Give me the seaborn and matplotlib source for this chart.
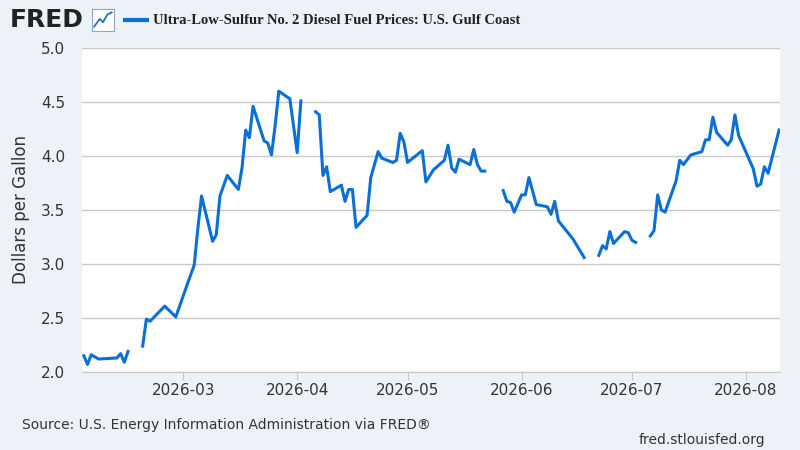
import matplotlib
matplotlib.use("Agg")
import matplotlib.pyplot as plt
import matplotlib.dates as mdates
import seaborn as sns
import pandas as pd

seg1_dates = ["2026-02-02","2026-02-03","2026-02-04","2026-02-06","2026-02-11","2026-02-12","2026-02-13","2026-02-14"]
seg1_vals = [2.15,2.07,2.16,2.12,2.13,2.17,2.09,2.19]
seg2_dates = ["2026-02-18","2026-02-19","2026-02-20","2026-02-24","2026-02-27","2026-03-02","2026-03-04","2026-03-05",
              "2026-03-06","2026-03-09","2026-03-10","2026-03-11","2026-03-13","2026-03-16","2026-03-17","2026-03-18",
              "2026-03-19","2026-03-20","2026-03-23","2026-03-24","2026-03-25","2026-03-26","2026-03-27","2026-03-30",
              "2026-04-01","2026-04-02"]
seg2_vals = [2.24,2.49,2.47,2.61,2.51,2.80,2.99,3.33,3.63,3.21,3.27,3.63,3.82,3.69,3.89,4.24,4.17,4.46,4.14,4.12,
             4.01,4.28,4.60,4.53,4.03,4.51]
seg3_dates = ["2026-04-06","2026-04-07","2026-04-08","2026-04-09","2026-04-10","2026-04-13","2026-04-14","2026-04-15",
              "2026-04-16","2026-04-17","2026-04-20","2026-04-21","2026-04-23","2026-04-24","2026-04-27","2026-04-28",
              "2026-04-29","2026-04-30","2026-05-01","2026-05-05","2026-05-06","2026-05-08","2026-05-11","2026-05-12",
              "2026-05-13","2026-05-14","2026-05-15","2026-05-18","2026-05-19","2026-05-20","2026-05-21","2026-05-22"]
seg3_vals = [4.41,4.38,3.82,3.90,3.67,3.73,3.58,3.69,3.69,3.34,3.45,3.80,4.04,3.98,3.94,3.96,4.21,4.13,3.94,4.05,
             3.76,3.87,3.96,4.10,3.89,3.85,3.97,3.92,4.06,3.92,3.86,3.86]
seg4_dates = ["2026-05-27","2026-05-28","2026-05-29","2026-05-30","2026-06-01","2026-06-02","2026-06-03","2026-06-05",
              "2026-06-08","2026-06-09","2026-06-10","2026-06-11","2026-06-15","2026-06-18"]
seg4_vals = [3.68,3.58,3.57,3.48,3.64,3.64,3.80,3.55,3.53,3.46,3.58,3.40,3.23,3.06]
seg5_dates = ["2026-06-22","2026-06-23","2026-06-24","2026-06-25","2026-06-26","2026-06-29","2026-06-30","2026-07-01","2026-07-02"]
seg5_vals = [3.08,3.17,3.14,3.30,3.19,3.30,3.29,3.22,3.20]
seg6_dates = ["2026-07-06","2026-07-07","2026-07-08","2026-07-09","2026-07-10","2026-07-13","2026-07-14","2026-07-15",
              "2026-07-17","2026-07-20","2026-07-21","2026-07-22","2026-07-23","2026-07-24","2026-07-27","2026-07-28",
              "2026-07-29","2026-07-30","2026-08-03","2026-08-04","2026-08-05","2026-08-06","2026-08-07","2026-08-10"]
seg6_vals = [3.26,3.31,3.64,3.50,3.48,3.77,3.96,3.92,4.01,4.04,4.15,4.15,4.36,4.22,4.10,4.15,4.38,4.19,3.88,3.72,
             3.74,3.90,3.84,4.24]

segs = [(seg1_dates, seg1_vals), (seg2_dates, seg2_vals), (seg3_dates, seg3_vals),
        (seg4_dates, seg4_vals), (seg5_dates, seg5_vals), (seg6_dates, seg6_vals)]
frames = []
for i, (d, v) in enumerate(segs):
    frames.append(pd.DataFrame({"date": pd.to_datetime(d), "value": v, "seg": i}))
df = pd.concat(frames, ignore_index=True)

bg = "#edf2f9"
fig = plt.figure(figsize=(8, 4.5), dpi=100, facecolor=bg)
ax = fig.add_axes([82/800, 1-372/450, (780-82)/800, (372-48)/450])
ax.set_facecolor("white")
sns.lineplot(data=df, x="date", y="value", units="seg", estimator=None, color="#0a6fd6", lw=2.2, ax=ax)

ax.set_ylim(2.0, 5.0)
ax.set_yticks([2.0, 2.5, 3.0, 3.5, 4.0, 4.5, 5.0])
ax.set_xlim(pd.Timestamp("2026-02-01 12:00"), pd.Timestamp("2026-08-10 06:00"))
ax.xaxis.set_major_locator(mdates.MonthLocator())
ax.xaxis.set_major_formatter(mdates.DateFormatter("%Y-%m"))
ax.grid(axis="y", color="#c8c8c8", lw=1)
ax.grid(axis="x", visible=False)
for s in ["top", "right", "left"]:
    ax.spines[s].set_visible(False)
ax.spines["bottom"].set_color("#c8c8c8")
ax.tick_params(axis="y", length=0, labelsize=11, colors="#333333", pad=12)
ax.tick_params(axis="x", length=6, color="#c8c8c8", labelsize=11, labelcolor="#333333", pad=2)
ax.set_xlabel("")
ax.set_ylabel("Dollars per Gallon", fontsize=12, color="#333333", labelpad=8)

fig.text(10/800, 1-20/450, "FRED", fontsize=18, fontweight="bold", color="#222222", va="center")
# small chart icon (emoji glyph not available in installed fonts)
iax = fig.add_axes([92/800, 1-31/450, 22/800, 22/450])
iax.set_xlim(0, 1); iax.set_ylim(0, 1)
iax.set_xticks([]); iax.set_yticks([])
iax.set_facecolor("white")
for s in iax.spines.values():
    s.set_color("#8aa8c8")
iax.plot([0.1, 0.35, 0.5, 0.7, 0.9], [0.2, 0.55, 0.4, 0.75, 0.85], color="#2a6ebb", lw=1.3)
fig.lines.append(plt.Line2D([125/800, 147/800], [1-20/450, 1-20/450], color="#0a6fd6", lw=3, transform=fig.transFigure))
fig.text(153/800, 1-20/450, "Ultra-Low-Sulfur No. 2 Diesel Fuel Prices: U.S. Gulf Coast",
         fontsize=10.5, fontweight="bold", family="Liberation Serif", color="#222222", va="center")
fig.text(22/800, 1-425/450, "Source: U.S. Energy Information Administration via FRED®", fontsize=10, color="#333333", va="center")
fig.text(765/800, 1-440/450, "fred.stlouisfed.org", fontsize=10, color="#333333", va="center", ha="right")

fig.savefig("out.png", dpi=100, facecolor=bg)
